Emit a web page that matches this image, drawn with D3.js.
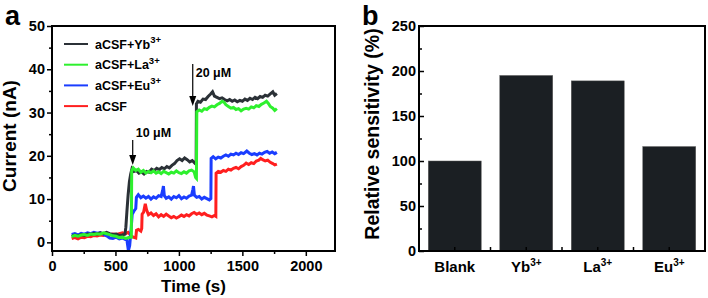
<!DOCTYPE html>
<html>
<head>
<meta charset="utf-8">
<script src="https://cdn.jsdelivr.net/npm/d3@7"></script>
<style>
  body { margin: 0; background: #fff; }
  svg { display: block; font-family: "Liberation Sans", Arial, sans-serif; font-weight: bold; }
</style>
</head>
<body>
<div id="chart"></div>
<script>
// ---- data ----
// [time (s), current (nA)]
const yb = [[155,1.4],[180,1.7],[205,1.5],[230,1.8],[255,1.6],[280,1.9],[305,1.8],[330,2.1],[355,1.9],[380,2.2],[405,2.0],[430,2.3],[455,2.0],[480,1.8],[505,1.9],[530,1.6],[555,1.7],[575,1.9],[582,3.5],[590,7],[600,11],[610,14],[620,15.8],[630,17.0],[645,16.4],[665,16.6],[685,16.0],[705,16.3],[725,15.8],[745,16.4],[765,16.2],[785,16.9],[805,16.6],[825,17.1],[845,16.8],[865,17.3],[885,17.0],[905,17.5],[925,17.2],[945,17.8],[965,18.2],[985,18.9],[1005,19.3],[1025,18.9],[1045,19.5],[1065,19.1],[1085,18.6],[1105,18.9],[1125,18.3],[1136,18.6],[1138,32.0],[1150,32.6],[1170,32.4],[1190,33.1],[1210,33.0],[1230,33.7],[1250,34.3],[1265,34.8],[1280,33.8],[1300,33.5],[1320,33.2],[1340,33.4],[1360,33.0],[1380,32.7],[1400,33.0],[1420,32.6],[1440,32.9],[1460,32.5],[1480,32.8],[1500,32.6],[1520,33.1],[1540,32.8],[1560,33.3],[1580,33.0],[1600,33.5],[1620,33.2],[1640,33.7],[1660,33.5],[1680,34.0],[1700,33.8],[1720,34.3],[1740,34.8],[1755,34.0],[1772,34.4]];
const la = [[155,1.3],[180,1.6],[205,1.4],[230,1.7],[255,1.8],[280,1.6],[305,1.9],[330,1.8],[355,2.0],[380,1.9],[405,2.2],[430,2.0],[455,1.8],[480,1.5],[505,1.4],[530,1.1],[555,1.2],[580,0.9],[605,1.1],[625,1.2],[628,16.5],[640,17.2],[660,16.6],[680,16.9],[700,16.2],[720,16.6],[740,16.0],[760,16.4],[780,16.1],[800,16.5],[820,16.0],[840,16.3],[860,15.9],[880,16.4],[900,16.1],[920,15.8],[940,16.2],[960,16.0],[980,16.5],[1000,16.1],[1020,15.9],[1040,16.3],[1060,16.0],[1080,16.5],[1100,16.7],[1120,16.3],[1132,15.0],[1138,14.8],[1141,30.2],[1160,30.6],[1180,30.3],[1200,30.9],[1220,30.7],[1240,31.2],[1260,31.5],[1280,31.3],[1300,31.8],[1320,32.1],[1340,32.6],[1355,32.4],[1370,31.8],[1390,31.4],[1410,31.0],[1430,31.2],[1450,30.7],[1470,30.9],[1490,30.4],[1510,30.8],[1530,31.0],[1550,30.8],[1570,31.3],[1590,31.1],[1610,31.6],[1630,31.4],[1650,31.9],[1670,32.2],[1690,32.6],[1705,32.1],[1720,31.4],[1740,31.0],[1755,30.5],[1772,30.9]];
const eu = [[155,1.8],[180,2.0],[205,1.7],[230,2.1],[255,1.9],[280,2.2],[305,2.0],[330,2.3],[355,2.1],[380,2.2],[405,1.9],[430,1.5],[455,1.0],[480,0.9],[505,1.2],[530,0.8],[555,1.0],[575,0.7],[590,0.6],[602,-1.9],[612,-0.8],[622,2.5],[632,6.5],[645,7.2],[660,7.8],[665,10.4],[680,11.0],[700,10.3],[720,10.7],[740,10.2],[760,10.6],[780,10.0],[800,10.5],[820,10.2],[840,10.8],[860,10.6],[872,12.0],[878,13.0],[885,10.8],[900,10.2],[920,10.5],[940,10.0],[960,10.6],[980,10.3],[1000,10.8],[1020,10.1],[1040,10.5],[1060,10.2],[1080,10.7],[1100,10.9],[1110,12.2],[1115,13.0],[1122,10.9],[1140,10.4],[1160,10.6],[1180,10.0],[1200,10.4],[1220,10.1],[1240,9.8],[1252,10.1],[1254,19.4],[1270,19.8],[1290,19.3],[1310,19.7],[1330,19.5],[1350,19.9],[1370,20.2],[1390,19.9],[1410,20.4],[1430,20.2],[1450,20.6],[1470,20.3],[1490,20.7],[1510,20.5],[1535,21.1],[1555,20.6],[1575,20.3],[1595,20.5],[1615,20.2],[1635,20.6],[1655,20.4],[1675,20.8],[1695,21.0],[1715,20.6],[1735,20.9],[1755,20.5],[1772,20.8]];
const acsf = [[155,0.9],[180,1.1],[205,0.8],[230,1.2],[255,1.1],[280,1.4],[305,1.3],[330,1.6],[355,1.5],[380,1.7],[405,1.6],[430,1.8],[455,1.7],[480,1.9],[505,1.8],[530,2.0],[555,2.2],[580,2.0],[600,2.3],[620,1.6],[640,1.2],[660,1.0],[666,2.8],[680,3.0],[700,2.6],[707,3.2],[710,6.5],[722,7.0],[735,8.9],[745,7.5],[760,6.4],[780,6.8],[800,6.2],[820,6.6],[840,5.9],[860,6.4],[880,6.0],[900,6.5],[920,6.1],[940,5.7],[960,6.0],[980,5.6],[1000,5.9],[1020,6.3],[1040,6.0],[1060,6.4],[1080,6.1],[1100,6.6],[1120,6.9],[1140,6.5],[1160,6.8],[1180,6.4],[1200,6.7],[1220,6.3],[1240,6.1],[1260,5.9],[1280,6.2],[1291,6.0],[1293,16.0],[1310,16.4],[1330,16.2],[1350,16.6],[1370,16.4],[1390,16.9],[1410,16.7],[1430,17.1],[1450,17.3],[1470,17.0],[1490,17.5],[1510,17.8],[1530,18.3],[1550,18.0],[1570,18.4],[1590,18.2],[1610,18.8],[1630,19.0],[1645,19.4],[1660,19.1],[1680,18.8],[1700,19.0],[1720,18.5],[1740,18.2],[1755,17.9],[1772,18.1]];

const seriesNames = ["aCSF+Yb", "aCSF+La", "aCSF+Eu", "aCSF"];
const seriesSup = ["3+", "3+", "3+", ""];
const seriesColors = ["#2b3137", "#2ef02e", "#1a3dff", "#ff1f1f"];
const seriesData = [yb, la, eu, acsf];
const drawOrder = [3, 2, 0, 1]; // red, blue, black, green on top

// arrows: [time, label]
const doses = [[636, "10 μM"], [1109, "20 μM"]];

const barCats = ["Blank", "Yb", "La", "Eu"];
const barSup = ["", "3+", "3+", "3+"];
const barValues = [100, 195, 189, 116];

const W = 708, H = 298;
const svg = d3.select("#chart").append("svg").attr("width", W).attr("height", H);

function styleAxis(g) {
  g.select(".domain").remove();
  g.selectAll("text")
    .attr("font-size", 14.5)
    .attr("font-weight", "bold")
    .attr("font-family", "Liberation Sans, Arial, sans-serif")
    .attr("fill", "#000");
  g.selectAll(".tick line").attr("stroke-width", 1.5);
}

// box border as four filled strips, 2px, pixel aligned
function frame(g, box) {
  const t = 2;
  const strips = [
    { x: box.left - 1, y: box.top - 1, w: box.right - box.left + t, h: t },
    { x: box.left - 1, y: box.bottom - 1, w: box.right - box.left + t, h: t },
    { x: box.left - 1, y: box.top - 1, w: t, h: box.bottom - box.top + t },
    { x: box.right - 1, y: box.top - 1, w: t, h: box.bottom - box.top + t },
  ];
  g.append("g").selectAll("rect")
    .data(strips)
    .join("rect")
    .attr("x", d => d.x).attr("y", d => d.y)
    .attr("width", d => d.w).attr("height", d => d.h)
    .attr("fill", "#000");
}

// ---------- panel a ----------
const pa = { left: 52, right: 335, top: 26, bottom: 251 };
const x = d3.scaleLinear().domain([0, 2230]).range([pa.left, pa.right]);
const y = d3.scaleLinear().domain([-2, 50]).range([pa.bottom, pa.top]);

const gA = svg.append("g");

const line = d3.line().x(d => x(d[0])).y(d => y(d[1]));
drawOrder.forEach(i => {
  gA.append("path")
    .datum(seriesData[i])
    .attr("fill", "none")
    .attr("stroke", seriesColors[i])
    .attr("stroke-width", 3)
    .attr("stroke-linejoin", "miter")
    .attr("d", line);
});

const gx = gA.append("g").attr("transform", `translate(0,${pa.bottom})`)
  .call(d3.axisBottom(x).tickValues([0, 500, 1000, 1500, 2000]).tickFormat(d3.format("d")).tickSize(5).tickPadding(5));
const gxm = gA.append("g").attr("transform", `translate(0,${pa.bottom})`)
  .call(d3.axisBottom(x).tickValues([250, 750, 1250, 1750]).tickSize(3).tickFormat(""));
const gy = gA.append("g").attr("transform", `translate(${pa.left},0)`)
  .call(d3.axisLeft(y).tickValues([0, 10, 20, 30, 40, 50]).tickSize(5).tickPadding(2));
const gym = gA.append("g").attr("transform", `translate(${pa.left},0)`)
  .call(d3.axisLeft(y).tickValues([5, 15, 25, 35, 45]).tickSize(3).tickFormat(""));

// ---------- panel b ----------
const pb = { left: 419, right: 705, top: 26, bottom: 251 };
const xb = d3.scaleBand().domain(barCats).range([pb.left, pb.right]).paddingInner(0.26).paddingOuter(0.13);
const ybar = d3.scaleLinear().domain([0, 250]).range([pb.bottom, pb.top]);

const gB = svg.append("g");
gB.selectAll("rect.bar")
  .data(barValues)
  .join("rect")
  .attr("class", "bar")
  .attr("x", (d, i) => xb(barCats[i]))
  .attr("y", d => ybar(d))
  .attr("width", xb.bandwidth())
  .attr("height", d => ybar(0) - ybar(d))
  .attr("fill", "#1b1f23")
  .attr("stroke", "#555")
  .attr("stroke-width", 0.5);

const gyb = gB.append("g").attr("transform", `translate(${pb.left},0)`)
  .call(d3.axisLeft(ybar).tickValues([0, 50, 100, 150, 200, 250]).tickSize(-5).tickPadding(3));
const gybm = gB.append("g").attr("transform", `translate(${pb.left},0)`)
  .call(d3.axisLeft(ybar).tickValues([25, 75, 125, 175, 225]).tickSize(-3).tickFormat(""));
const gxb = gB.append("g").attr("transform", `translate(0,${pb.bottom})`)
  .call(d3.axisBottom(xb).tickSize(-4).tickFormat(""));

// boundary ticks between bars
const gap = (xb.step() - xb.bandwidth()) / 2;
gB.append("g").selectAll("line")
  .data(barCats.slice(1))
  .join("line")
  .attr("x1", d => xb(d) - gap)
  .attr("x2", d => xb(d) - gap)
  .attr("y1", pb.bottom).attr("y2", pb.bottom - 4)
  .attr("stroke", "#000").attr("stroke-width", 1.5);

[gx, gxm, gy, gym, gyb, gybm, gxb].forEach(styleAxis);

// category labels with superscripts
const catLabels = gB.append("g").selectAll("text")
  .data(barCats)
  .join("text")
  .attr("x", d => xb(d) + xb.bandwidth() / 2)
  .attr("y", 272)
  .attr("text-anchor", "middle")
  .attr("font-size", 15);
catLabels.append("tspan").text(d => d);
catLabels.append("tspan")
  .attr("font-size", 10).attr("dy", -6)
  .text((d, i) => barSup[i]);

// ---------- legend ----------
const legend = gA.append("g");
seriesNames.forEach((name, i) => {
  const ly = 44 + i * 20.7;
  legend.append("line")
    .attr("x1", 64).attr("x2", 88).attr("y1", ly).attr("y2", ly)
    .attr("stroke", seriesColors[i]).attr("stroke-width", 2);
  const t = legend.append("text").attr("x", 95).attr("y", ly + 4.5).attr("font-size", 12.5);
  t.append("tspan").text(name);
  if (seriesSup[i]) t.append("tspan").attr("font-size", 9.5).attr("dy", -5.5).text(seriesSup[i]);
});

// ---------- dose arrows ----------
const arrowY = [[140, 165, 137], [64, 106, 77]]; // [start, tip, label baseline]
doses.forEach((d, i) => {
  const ax = x(d[0]);
  const [y0, y1, ty] = arrowY[i];
  gA.append("line").attr("x1", ax).attr("x2", ax).attr("y1", y0).attr("y2", y1 - 8)
    .attr("stroke", "#000").attr("stroke-width", 1.2);
  gA.append("path")
    .attr("d", `M${ax - 3.5},${y1 - 10}L${ax + 3.5},${y1 - 10}L${ax},${y1}Z`)
    .attr("fill", "#000");
  gA.append("text").attr("x", ax + 3).attr("y", ty).attr("font-size", 12.5).text(d[1]);
});

// ---------- titles ----------
svg.append("text")
  .attr("transform", `translate(${(pa.left + pa.right) / 2},${291.5})`)
  .attr("text-anchor", "middle").attr("font-size", 17).text("Time (s)");
svg.append("text")
  .attr("transform", `translate(16,${136}) rotate(-90)`)
  .attr("text-anchor", "middle").attr("font-size", 19).text("Current (nA)");
svg.append("text")
  .attr("transform", `translate(379,${134}) rotate(-90)`)
  .attr("text-anchor", "middle").attr("font-size", 19.5).text("Relative sensitivity (%)");

svg.append("text").attr("x", 5).attr("y", 25).attr("font-size", 27).text("a");
svg.append("text").attr("x", 362).attr("y", 25).attr("font-size", 27).text("b");

// frames last, on top
frame(svg, pa);
frame(svg, pb);
</script>
</body>
</html>
